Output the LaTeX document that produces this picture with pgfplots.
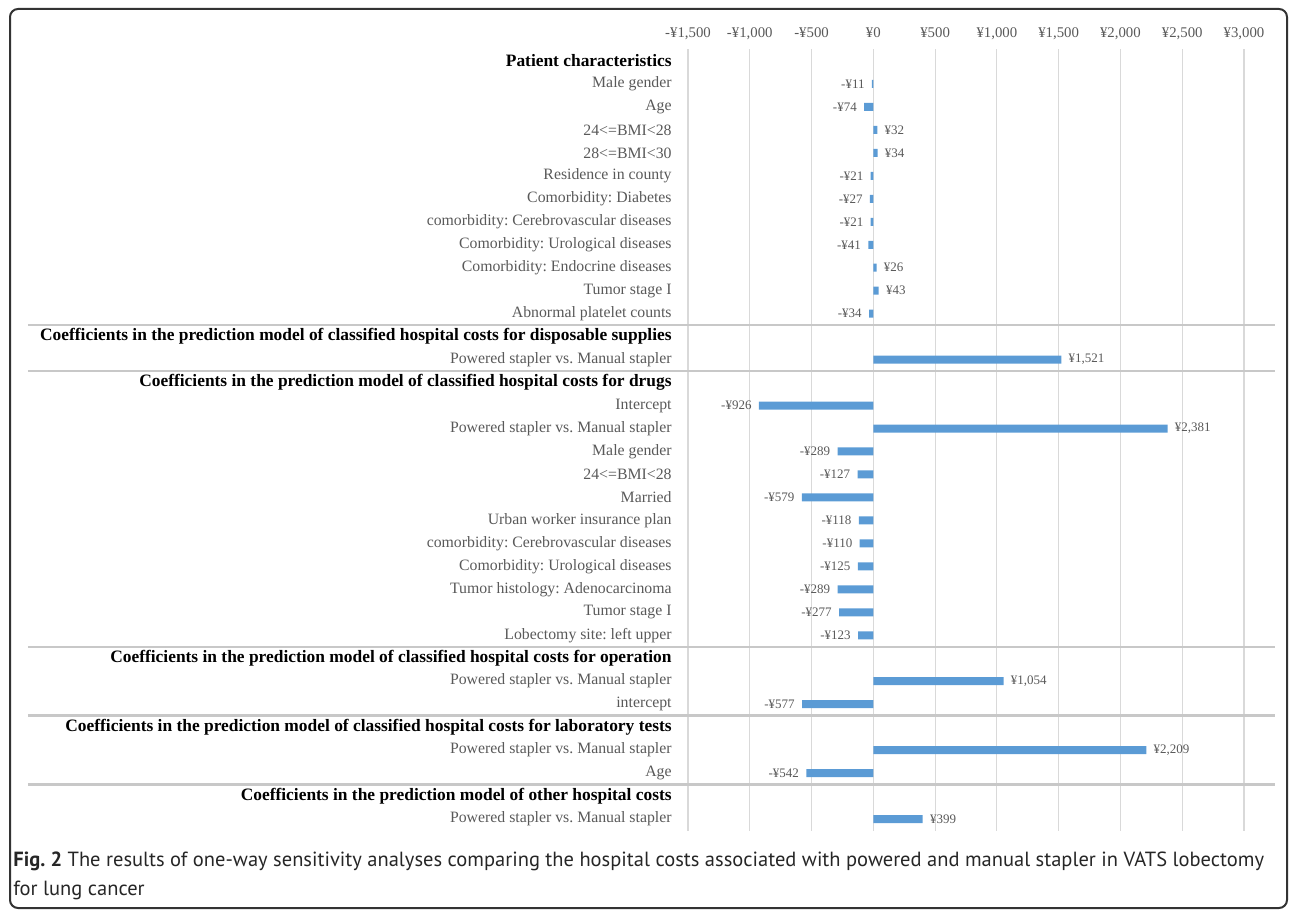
\documentclass[border=0pt]{standalone}
\usepackage{fontspec}
\setmainfont{Liberation Serif}
\newfontfamily\capfont{PT Sans}
\usepackage{pgfplots}
\pgfplotsset{compat=1.18}
\frenchspacing

\definecolor{barblue}{HTML}{5B9BD5}
\definecolor{labelgray}{HTML}{595959}
\definecolor{gridgray}{HTML}{D9D9D9}
\definecolor{sepgray}{HTML}{C8C8C8}
\definecolor{framegray}{HTML}{333333}

\newcommand\hd[1]{\textcolor{black}{\fontsize{8.7}{9}\selectfont\bfseries #1}}

\begin{document}
\begin{tikzpicture}
\path[use as bounding box] (0,0) rectangle (647.5pt,455pt);
\draw[framegray, line width=1pt, rounded corners=4pt] (5pt,1pt) rectangle (643.5pt,450.5pt);

\begin{axis}[
    at={(344pt,39.75pt)}, anchor=south west,
    width=278pt, height=390.5pt, scale only axis,
    clip=false,
    xbar, bar width=4pt, bar shift=0pt,
    xmin=-1500, xmax=3000,
    ymin=-0.5, ymax=33.5, y dir=reverse,
    axis line style={draw=none},
    major tick length=0pt,
    xmajorgrids, grid style={gridgray, line width=0.6pt},
    xtick={-1500,-1000,...,3000},
    xticklabels={{-¥1,500},{-¥1,000},{-¥500},{¥0},{¥500},{¥1,000},{¥1,500},{¥2,000},{¥2,500},{¥3,000}},
    xticklabel pos=right,
    xticklabel style={anchor=base, inner sep=0pt, yshift=5.75pt, text=labelgray,
        font=\fontsize{7.4}{8}\selectfont},
    ytick={0,...,33},
    yticklabels={
        \hd{Patient characteristics},
        Male gender, Age, 24<=BMI<28, 28<=BMI<30, Residence in county,
        Comorbidity: Diabetes, comorbidity: Cerebrovascular diseases,
        Comorbidity: Urological diseases, Comorbidity: Endocrine diseases,
        Tumor stage I, Abnormal platelet counts,
        \hd{Coefficients in the prediction model of classified hospital costs for disposable supplies},
        Powered stapler vs. Manual stapler,
        \hd{Coefficients in the prediction model of classified hospital costs for drugs},
        Intercept, Powered stapler vs. Manual stapler, Male gender, 24<=BMI<28,
        Married, Urban worker insurance plan, comorbidity: Cerebrovascular diseases,
        Comorbidity: Urological diseases, Tumor histology: Adenocarcinoma,
        Tumor stage I, Lobectomy site: left upper,
        \hd{Coefficients in the prediction model of classified hospital costs for operation},
        Powered stapler vs. Manual stapler, intercept,
        \hd{Coefficients in the prediction model of classified hospital costs for laboratory tests},
        Powered stapler vs. Manual stapler, Age,
        \hd{Coefficients in the prediction model of other hospital costs},
        Powered stapler vs. Manual stapler},
    yticklabel style={anchor=east, inner sep=0pt, xshift=-8pt, text=labelgray,
        font=\fontsize{7.9}{8.5}\selectfont},
    /pgf/number format/assume math mode=true,
    /pgf/number format/.cd, fixed, precision=0, 1000 sep={,},
]

% row separators
\draw[sepgray, line width=1.2pt] (axis cs:-6842,11.5) -- (axis cs:3251,11.5);
\draw[sepgray, line width=1.2pt] (axis cs:-6842,13.5) -- (axis cs:3251,13.5);
\draw[sepgray, line width=1.2pt] (axis cs:-6842,25.5) -- (axis cs:3251,25.5);
\draw[sepgray, line width=1.2pt] (axis cs:-6842,28.5) -- (axis cs:3251,28.5);
\draw[sepgray, line width=1.2pt] (axis cs:-6842,31.5) -- (axis cs:3251,31.5);

% negative coefficients
\addplot[draw=none, fill=barblue, point meta={abs(x)},
    nodes near coords={-¥\pgfmathprintnumber{\pgfplotspointmeta}},
    every node near coord/.append style={anchor=east, inner sep=0pt, xshift=-3.5pt,
        text=labelgray, font=\fontsize{6.5}{7}\selectfont}]
coordinates {
    (-11,1) (-74,2) (-21,5) (-27,6) (-21,7) (-41,8) (-34,11)
    (-926,15) (-289,17) (-127,18) (-579,19) (-118,20) (-110,21)
    (-125,22) (-289,23) (-277,24) (-123,25)
    (-577,28) (-542,31)
};

% positive coefficients
\addplot[draw=none, fill=barblue, point meta={abs(x)},
    nodes near coords={¥\pgfmathprintnumber{\pgfplotspointmeta}},
    every node near coord/.append style={anchor=west, inner sep=0pt, xshift=3.5pt,
        text=labelgray, font=\fontsize{6.5}{7}\selectfont}]
coordinates {
    (32,3) (34,4) (26,9) (43,10)
    (1521,13) (2381,16) (1054,27) (2209,30) (399,33)
};
\end{axis}

\node[anchor=base west, inner sep=0pt, font=\capfont\fontsize{10.25}{12}\selectfont, text=black!85]
    at (6.5pt,22pt) {\textbf{Fig. 2} The results of one-way sensitivity analyses comparing the hospital costs associated with powered and manual stapler in VATS lobectomy};
\node[anchor=base west, inner sep=0pt, font=\capfont\fontsize{10.25}{12}\selectfont, text=black!85]
    at (6.5pt,7.5pt) {for lung cancer};
\end{tikzpicture}
\end{document}
